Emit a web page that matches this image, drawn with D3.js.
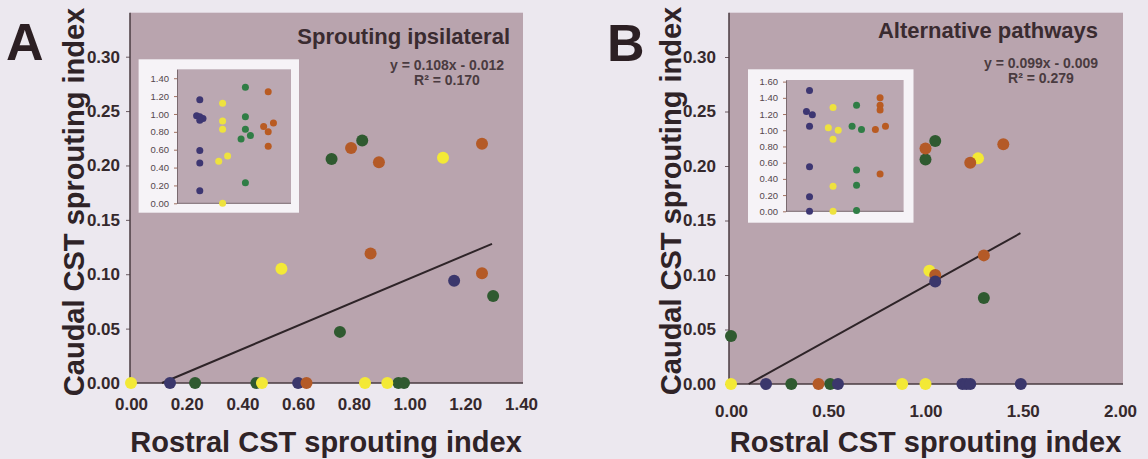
<!DOCTYPE html>
<html>
<head>
<meta charset="utf-8">
<script src="https://cdn.jsdelivr.net/npm/d3@7"></script>
<style>
  html, body { margin: 0; padding: 0; background: #ece8ef; }
  svg { display: block; font-family: "Liberation Sans", Arial, sans-serif; }
</style>
</head>
<body>
<svg id="chart" width="1148" height="459"></svg>
<script>
'use strict';

// groups: blue, yellow, green, orange
const groupNames = ['blue', 'yellow', 'green', 'orange'];
const mainColors = ['#3b376c', '#f3e936', '#2f5a30', '#b45a27'];
const insetColors = ['#3d3672', '#eee23e', '#2f7d45', '#b95b22'];

// main plots: [rostral index, caudal index]
const aBlue = [[0.14, 0], [0.60, 0], [1.16, 0.094]];
const aGreen = [[0.23, 0], [0.45, 0], [0.96, 0], [0.98, 0], [0.75, 0.047], [0.72, 0.206], [0.83, 0.223], [1.30, 0.080]];
const aOrange = [[0.63, 0], [0.79, 0.216], [0.89, 0.203], [0.86, 0.119], [1.26, 0.220], [1.26, 0.101]];
const aYellow = [[0, 0], [0.47, 0], [0.84, 0], [0.92, 0], [0.54, 0.105], [1.12, 0.207]];

const bGreen = [[0.31, 0], [0.51, 0], [0.00, 0.044], [1.05, 0.223], [1.00, 0.206], [1.30, 0.079]];
const bOrange = [[0.45, 0], [1.00, 0.216], [1.23, 0.203], [1.40, 0.220], [1.30, 0.118], [1.05, 0.100]];
const bYellow = [[0, 0], [0.88, 0], [1.00, 0], [1.02, 0.104], [1.27, 0.207]];
const bBlue = [[0.18, 0], [0.55, 0], [1.19, 0], [1.21, 0], [1.23, 0], [1.49, 0], [1.05, 0.094]];

// trend lines: slope, intercept, last x
const aTrend = [0.108, -0.012, 1.296];
const bTrend = [0.099, -0.009, 1.488];

// insets: [group position (1..4, jittered), value]
const aInsetBlue = [[1, 1.16], [0.86, 0.98], [1, 0.97], [1.14, 0.95], [1, 0.93], [1, 0.59], [1, 0.45], [1, 0.14]];
const aInsetYellow = [[2, 1.12], [2, 0.92], [2, 0.83], [2.22, 0.53], [1.83, 0.47], [2, 0.0]];
const aInsetGreen = [[3, 1.30], [3, 0.97], [3, 0.83], [3.22, 0.76], [2.81, 0.72], [3, 0.23]];
const aInsetOrange = [[4, 1.25], [4.23, 0.90], [3.8, 0.86], [4, 0.80], [4, 0.64]];

const bInsetBlue = [[1, 1.49], [0.87, 1.23], [1.12, 1.19], [1, 1.05], [1, 0.55], [1, 0.18], [1, 0.0]];
const bInsetYellow = [[2, 1.28], [1.8, 1.03], [2.22, 1.00], [2, 0.89], [2, 0.31], [2, 0.0]];
const bInsetGreen = [[3, 1.31], [2.81, 1.05], [3.21, 1.01], [3, 0.51], [3, 0.32], [3, 0.01]];
const bInsetOrange = [[4, 1.40], [4, 1.31], [4, 1.25], [3.8, 1.01], [4.23, 1.05], [4, 0.46]];

// tick values
const yTicks = [0, 0.05, 0.10, 0.15, 0.20, 0.25, 0.30];
const aXTicks = [0, 0.2, 0.4, 0.6, 0.8, 1.0, 1.2, 1.4];
const bXTicks = [0, 0.5, 1.0, 1.5, 2.0];
const aInsetTicks = [0, 0.2, 0.4, 0.6, 0.8, 1.0, 1.2, 1.4];
const bInsetTicks = [0, 0.2, 0.4, 0.6, 0.8, 1.0, 1.2, 1.4, 1.6];

const svg = d3.select('#chart');
const ink = '#35282c';
const plotFill = '#b9a4ae';

function drawPanel(p) {
    const g = svg.append('g');
    const x = d3.scaleLinear().domain(p.xDomain).range(p.xRange);
    const y = d3.scaleLinear().domain([0, 0.30]).range(p.yRange);

    g.append('rect')
        .attr('x', p.box[0]).attr('y', p.box[2])
        .attr('width', p.box[1] - p.box[0]).attr('height', p.box[3] - p.box[2])
        .attr('fill', plotFill);

    // y axis
    const ya = g.append('g')
        .attr('transform', `translate(${p.box[0]},0)`)
        .call(d3.axisLeft(y).tickValues(yTicks).tickFormat(d3.format('.2f'))
            .tickSize(4).tickSizeOuter(0).tickPadding(p.yPad));
    ya.select('.domain').remove();
    ya.selectAll('line').attr('stroke', '#6a5a60');
    ya.selectAll('text').attr('fill', ink).attr('font-size', 17).attr('font-weight', 'bold');

    // x axis
    const xa = g.append('g')
        .attr('transform', `translate(0,${p.box[3]})`)
        .call(d3.axisBottom(x).tickValues(p.xTicks).tickFormat(d3.format('.2f'))
            .tickSize(0).tickPadding(p.xPad));
    xa.select('.domain').remove();
    xa.selectAll('text').attr('fill', ink).attr('font-size', 17).attr('font-weight', 'bold');

    g.append('line')
        .attr('x1', p.box[0]).attr('x2', p.box[0]).attr('y1', p.box[2]).attr('y2', p.box[3])
        .attr('stroke', '#4a3b40').attr('stroke-width', 1.5);
    g.append('line')
        .attr('x1', p.box[0]).attr('x2', p.box[1]).attr('y1', p.box[3]).attr('y2', p.box[3])
        .attr('stroke', '#4a3b40').attr('stroke-width', 1.5);

    // inset
    const ins = p.inset;
    g.append('rect')
        .attr('x', ins.white[0]).attr('y', ins.white[2])
        .attr('width', ins.white[1] - ins.white[0]).attr('height', ins.white[3] - ins.white[2])
        .attr('fill', '#f6f3f7');
    g.append('rect')
        .attr('x', ins.box[0]).attr('y', ins.box[2])
        .attr('width', ins.box[1] - ins.box[0]).attr('height', ins.box[3] - ins.box[2])
        .attr('fill', '#bba8b2');
    const ix = d3.scaleLinear().domain([0, 5]).range([ins.box[0], ins.box[1]]);
    const iy = d3.scaleLinear().domain([0, ins.yMax]).range([ins.box[3], ins.box[2]]);
    const ia = g.append('g')
        .attr('transform', `translate(${ins.box[0]},0)`)
        .call(d3.axisLeft(iy).tickValues(ins.ticks).tickFormat(d3.format('.2f'))
            .tickSize(3).tickSizeOuter(0).tickPadding(5));
    ia.select('.domain').attr('stroke', '#7a6a70');
    ia.selectAll('line').attr('stroke', '#a07060');
    ia.selectAll('text').attr('fill', '#54464c').attr('font-size', 9.5);
    g.append('line')
        .attr('x1', ins.box[0]).attr('x2', ins.box[1]).attr('y1', ins.box[3]).attr('y2', ins.box[3])
        .attr('stroke', '#7a6a70');
    ins.series.forEach((s, i) => {
        g.selectAll(null).data(s).join('circle')
            .attr('cx', d => ix(d[0])).attr('cy', d => iy(d[1]))
            .attr('r', 3.5).attr('fill', insetColors[i]);
    });

    // trend line
    const t = p.trend;
    const x0 = -t[1] / t[0];
    g.append('line')
        .attr('x1', x(x0)).attr('y1', y(0))
        .attr('x2', x(t[2])).attr('y2', y(t[0] * t[2] + t[1]))
        .attr('stroke', '#2e2428').attr('stroke-width', 2);

    // points
    p.series.forEach(s => {
        g.selectAll(null).data(s.data).join('circle')
            .attr('cx', d => x(d[0])).attr('cy', d => y(d[1]))
            .attr('r', 6).attr('fill', mainColors[s.group]);
    });

    // texts
    g.append('text').text(p.letter)
        .attr('x', p.letterPos[0]).attr('y', p.letterPos[1])
        .attr('font-size', 52).attr('font-weight', 'bold').attr('fill', '#2c1f23');
    g.append('text').text(p.title)
        .attr('x', p.titlePos[0]).attr('y', p.titlePos[1]).attr('text-anchor', 'end')
        .attr('font-size', 22).attr('font-weight', 'bold').attr('fill', '#3a2b30');
    p.eq.forEach((line, i) => {
        g.append('text').text(line)
            .attr('x', p.eqPos[0]).attr('y', p.eqPos[1] + i * 15).attr('text-anchor', 'middle')
            .attr('font-size', 14).attr('font-weight', 'bold').attr('fill', '#4a3b40');
    });
    g.append('text').text('Caudal CST sprouting index')
        .attr('transform', `translate(${p.yTitlePos[0]},${p.yTitlePos[1]}) rotate(-90)`)
        .attr('text-anchor', 'middle')
        .attr('font-size', 29).attr('font-weight', 'bold').attr('fill', '#2f2327');
    g.append('text').text('Rostral CST sprouting index')
        .attr('x', (p.xRange[0] + p.xRange[1]) / 2).attr('y', 452)
        .attr('text-anchor', 'middle')
        .attr('font-size', 29).attr('font-weight', 'bold').attr('fill', '#2f2327');
}

drawPanel({
    letter: 'A', letterPos: [6, 60],
    title: 'Sprouting ipsilateral', titlePos: [510, 44],
    eq: ['y = 0.108x - 0.012', 'R² = 0.170'], eqPos: [447, 70],
    yTitlePos: [84, 202],
    box: [130, 523, 12.7, 383],
    xDomain: [0, 1.4], xRange: [131, 521], yRange: [383, 56.7],
    xTicks: aXTicks, xPad: 15, yPad: 6,
    trend: aTrend,
    series: [
        { group: 0, data: aBlue },
        { group: 2, data: aGreen },
        { group: 3, data: aOrange },
        { group: 1, data: aYellow }
    ],
    inset: {
        white: [138.6, 299, 59.3, 212.7],
        box: [177, 291, 69.3, 203.3],
        yMax: 1.5, ticks: aInsetTicks,
        series: [aInsetBlue, aInsetYellow, aInsetGreen, aInsetOrange]
    }
});

drawPanel({
    letter: 'B', letterPos: [607, 61],
    title: 'Alternative pathways', titlePos: [1098, 38],
    eq: ['y = 0.099x - 0.009', 'R² = 0.279'], eqPos: [1041, 68],
    yTitlePos: [681, 201],
    box: [729, 1123, 12.7, 384],
    xDomain: [0, 2], xRange: [731, 1120], yRange: [384, 57],
    xTicks: bXTicks, xPad: 21, yPad: 9,
    trend: bTrend,
    series: [
        { group: 2, data: bGreen },
        { group: 1, data: bYellow },
        { group: 3, data: bOrange },
        { group: 0, data: bBlue }
    ],
    inset: {
        white: [748, 913.5, 69.3, 222.7],
        box: [786, 903.6, 80, 211.3],
        yMax: 1.62, ticks: bInsetTicks,
        series: [bInsetBlue, bInsetYellow, bInsetGreen, bInsetOrange]
    }
});
</script>
</body>
</html>
